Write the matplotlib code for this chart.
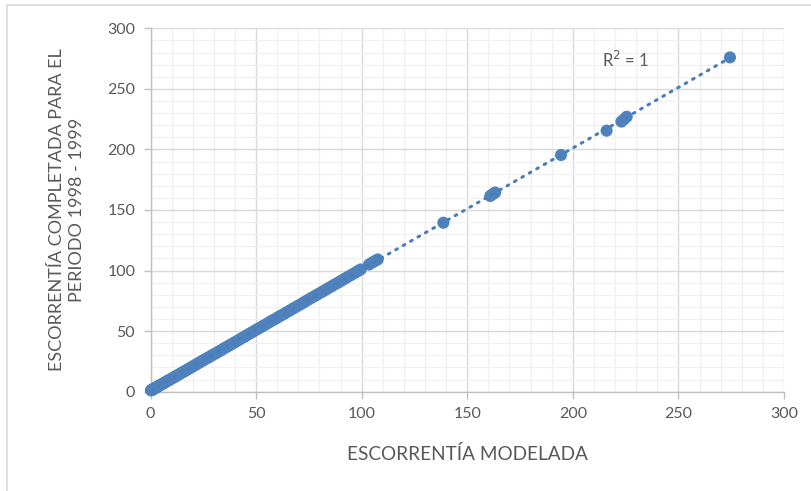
import numpy as np
import matplotlib
matplotlib.use("Agg")
import matplotlib.pyplot as plt
from matplotlib.patches import Rectangle
from matplotlib.ticker import MultipleLocator

plt.rcParams["font.family"] = ["Lato", "DejaVu Sans"]

# Modelled runoff (x) and completed runoff for 1998-1999 (y)
escorrentia_modelada = [
    0.2, 0.5, 0.8, 1.0, 1.3, 1.6, 2.0, 2.3, 2.7, 3.1, 3.5, 4.0, 4.4, 5.0, 5.6,
    6.1, 6.8, 7.4, 8.0, 8.7, 9.5, 10.2, 11.0, 11.8, 12.5, 13.4, 14.2, 15.1,
    16.0, 16.9, 17.8, 18.8, 19.7, 20.6, 21.6, 22.5, 23.5, 24.6, 25.6, 26.7,
    27.8, 28.9, 30.0, 31.2, 32.3, 33.5, 34.6, 35.8, 37.0, 38.1, 39.3, 40.5,
    41.8, 43.0, 44.3, 45.5, 46.8, 48.0, 49.3, 50.7, 52.0, 53.4, 54.8, 56.1,
    57.5, 59.0, 60.4, 61.8, 63.3, 64.7, 66.1, 67.6, 69.0, 70.5, 72.0, 73.4,
    74.9, 76.5, 78.0, 79.5, 81.1, 82.6, 84.1, 85.7, 87.2, 88.8, 90.3, 91.9,
    93.4, 95.0, 96.6, 98.1, 99.5, 103.5, 105.0, 106.3, 107.6,
    138.7, 160.9, 162.0, 163.2, 194.4, 216.0, 223.0, 224.3, 225.5, 274.4,
]
escorrentia_completada = [
    1.1, 1.4, 1.6, 1.9, 2.1, 2.5, 2.8, 3.2, 3.5, 3.9, 4.4, 4.8, 5.3, 5.8, 6.4,
    6.9, 7.6, 8.2, 8.8, 9.6, 10.3, 11.0, 11.8, 12.6, 13.3, 14.2, 15.0, 15.9,
    16.8, 17.7, 18.6, 19.6, 20.5, 21.5, 22.4, 23.4, 24.4, 25.5, 26.5, 27.6,
    28.6, 29.8, 30.9, 32.0, 33.2, 34.3, 35.5, 36.7, 37.9, 39.0, 40.2, 41.4,
    42.7, 44.0, 45.2, 46.5, 47.8, 49.0, 50.3, 51.7, 53.0, 54.4, 55.8, 57.2,
    58.6, 60.0, 61.5, 62.9, 64.3, 65.8, 67.2, 68.7, 70.1, 71.6, 73.1, 74.6,
    76.1, 77.7, 79.2, 80.7, 82.3, 83.8, 85.4, 86.9, 88.5, 90.0, 91.6, 93.2,
    94.8, 96.3, 97.9, 99.5, 100.9, 105.0, 106.6, 107.9, 109.2,
    139.5, 161.6, 163.0, 164.4, 195.4, 215.5, 223.0, 225.0, 227.0, 276.0,
]
r2_label = "R$^2$ = 1"

x_ticks = [0, 50, 100, 150, 200, 250, 300]
y_ticks = [0, 50, 100, 150, 200, 250, 300]

blue = "#4A7EBB"
blue_marker = "#4F81BD"
text_gray = "#595959"

fig = plt.figure(figsize=(8.11, 4.91), dpi=100)
fig.patch.set_facecolor("white")

# chart-area border (only top and left edges fall inside the image)
fig.add_artist(Rectangle((7 / 811, -0.05), 1.2, 1 - 4.5 / 491 + 0.05,
                         transform=fig.transFigure, fill=False,
                         edgecolor="#D9D9D9", linewidth=1.2))

ax = fig.add_axes([150.5 / 811, 1 - 391.7 / 491, (784 - 150.5) / 811,
                   (391.7 - 28.3) / 491])
ax.set_xlim(0, 300)
ax.set_ylim(0, 300)

ax.xaxis.set_minor_locator(MultipleLocator(10))
ax.yaxis.set_minor_locator(MultipleLocator(10))
ax.set_xticks(x_ticks)
ax.set_yticks(y_ticks)

ax.grid(which="major", color="#D9D9D9", linewidth=1.0, zorder=0)
ax.grid(which="minor", color="#F0F0F0", linewidth=0.9, zorder=0)
ax.set_axisbelow(True)

for side in ["top", "right"]:
    ax.spines[side].set_visible(False)
for side in ["left", "bottom"]:
    ax.spines[side].set_color("#BFBFBF")
    ax.spines[side].set_linewidth(1.0)

ax.tick_params(which="major", direction="out", length=5, width=1.0,
               color="#BFBFBF", labelcolor=text_gray, labelsize=11.5, pad=6)
ax.tick_params(which="minor", length=0)

x = np.array(escorrentia_modelada)
y = np.array(escorrentia_completada)
ax.scatter(x, y, s=76, color=blue_marker, edgecolors="none", zorder=3,
           clip_on=False)

# linear trendline
slope, intercept = np.polyfit(x, y, 1)
xl = np.array([x.min(), x.max()])
ax.plot(xl, slope * xl + intercept, color=blue, linewidth=2.2,
        linestyle=(0, (0.6, 2.2)), dash_capstyle="round", zorder=4)

ax.text(214, 274, r2_label, color=text_gray, fontsize=12, va="center",
        ha="left")

ax.set_xlabel("ESCORRENTÍA MODELADA", color=text_gray, fontsize=13.7,
              labelpad=17)
ax.set_ylabel("ESCORRENTÍA COMPLETADA PARA EL\nPERIODO 1998 - 1999",
              color=text_gray, fontsize=13, labelpad=16, linespacing=1.3,
              multialignment="center")

fig.savefig("out.png", dpi=100, facecolor="white")
